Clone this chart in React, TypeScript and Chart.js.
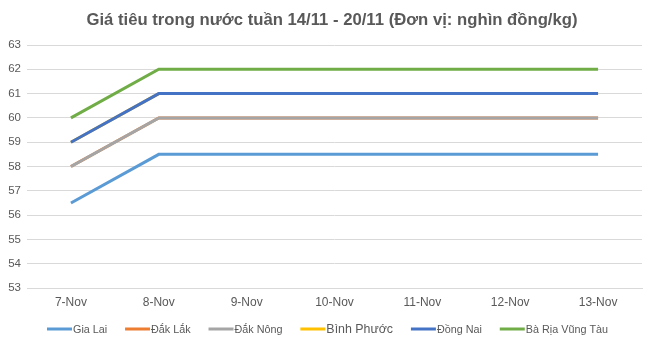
import React, { useEffect, useRef } from "react";
import { Chart, registerables } from "chart.js";

Chart.register(...registerables);

const categories = ["7-Nov", "8-Nov", "9-Nov", "10-Nov", "11-Nov", "12-Nov", "13-Nov"];
const seriesNames = ["Gia Lai", "Đắk Lắk", "Đắk Nông", "Bình Phước", "Đồng Nai", "Bà Rịa Vũng Tàu"];
const giaLai = [56.5, 58.5, 58.5, 58.5, 58.5, 58.5, 58.5];
const dakLak = [58, 60, 60, 60, 60, 60, 60];
const dakNong = [58, 60, 60, 60, 60, 60, 60];
const binhPhuoc = [59, 61, 61, 61, 61, 61, 61];
const dongNai = [59, 61, 61, 61, 61, 61, 61];
const baRia = [60, 62, 62, 62, 62, 62, 62];
const seriesColors = ["#5B9BD5", "#ED7D31", "#A5A5A5", "#FFC000", "#4472C4", "#70AD47"];
const titleText = "Giá tiêu trong nước tuần 14/11 - 20/11 (Đơn vị: nghìn đồng/kg)";
const yMin = 53;
const yMax = 63;

const FONT = "'Liberation Sans', Arial, sans-serif";
const TEXT = "#595959";

const overlayPlugin = {
  id: "overlay",
  afterDraw(chart: any) {
    const ctx = chart.ctx as CanvasRenderingContext2D;
    ctx.save();
    // title
    ctx.fillStyle = TEXT;
    ctx.font = `bold 16.7px ${FONT}`;
    ctx.textAlign = "center";
    ctx.textBaseline = "alphabetic";
    ctx.fillText(titleText, 332, 25);
    // legend
    const ds = chart.data.datasets;
    const lineLen = 25;
    const gapText = 1;
    const left = 47;
    const right = 608;
    const fonts = ds.map((_: any, i: number) =>
      i === 3 ? `12.4px ${FONT}` : `10.8px ${FONT}`
    );
    const widths = ds.map((d: any, i: number) => {
      ctx.font = fonts[i];
      return lineLen + gapText + ctx.measureText(d.label).width;
    });
    const total = widths.reduce((a: number, b: number) => a + b, 0);
    const gap = (right - left - total) / (ds.length - 1);
    let x = left;
    const y = 329;
    ctx.textAlign = "left";
    ctx.textBaseline = "middle";
    ds.forEach((d: any, i: number) => {
      ctx.strokeStyle = d.borderColor;
      ctx.lineWidth = 3;
      ctx.beginPath();
      ctx.moveTo(x, y);
      ctx.lineTo(x + lineLen, y);
      ctx.stroke();
      ctx.font = fonts[i];
      ctx.fillStyle = TEXT;
      ctx.fillText(d.label, x + lineLen + gapText, y + 1);
      x += widths[i] + gap;
    });
    ctx.restore();
  },
};

export default function App() {
  const ref = useRef<HTMLCanvasElement>(null);
  useEffect(() => {
    const values = [giaLai, dakLak, dakNong, binhPhuoc, dongNai, baRia];
    const chart = new Chart(ref.current!, {
      type: "line",
      data: {
        labels: categories,
        datasets: values.map((v, i) => ({
          label: seriesNames[i],
          data: v,
          borderColor: seriesColors[i],
          backgroundColor: seriesColors[i],
          borderWidth: 3,
          pointRadius: 0,
          tension: 0,
          order: -i,
        })),
      },
      plugins: [overlayPlugin],
      options: {
        animation: false,
        responsive: false,
        maintainAspectRatio: false,
        layout: { padding: { left: 0, right: 7, top: 45, bottom: 26.6 } },
        plugins: {
          title: { display: false },
          legend: { display: false },
          tooltip: { enabled: false },
        },
        scales: {
          x: {
            offset: true,
            grid: { display: false, drawTicks: false },
            border: { display: true, color: "#D9D9D9" },
            ticks: { color: TEXT, font: { family: FONT, size: 12 }, padding: 7, maxRotation: 0 },
          },
          y: {
            min: yMin,
            max: yMax,
            ticks: { stepSize: 1, color: TEXT, font: { family: FONT, size: 11.5 }, padding: 6 },
            grid: { color: "#D9D9D9", drawTicks: false },
            border: { display: false },
            afterFit: (s: any) => {
              s.width = 27;
            },
          },
        },
      },
    });
    return () => chart.destroy();
  }, []);
  return (
    <div style={{ position: "fixed", left: 0, top: 0, width: 649, height: 343, background: "#fff" }}>
      <canvas ref={ref} width={649} height={343} style={{ width: 649, height: 343 }} />
    </div>
  );
}
